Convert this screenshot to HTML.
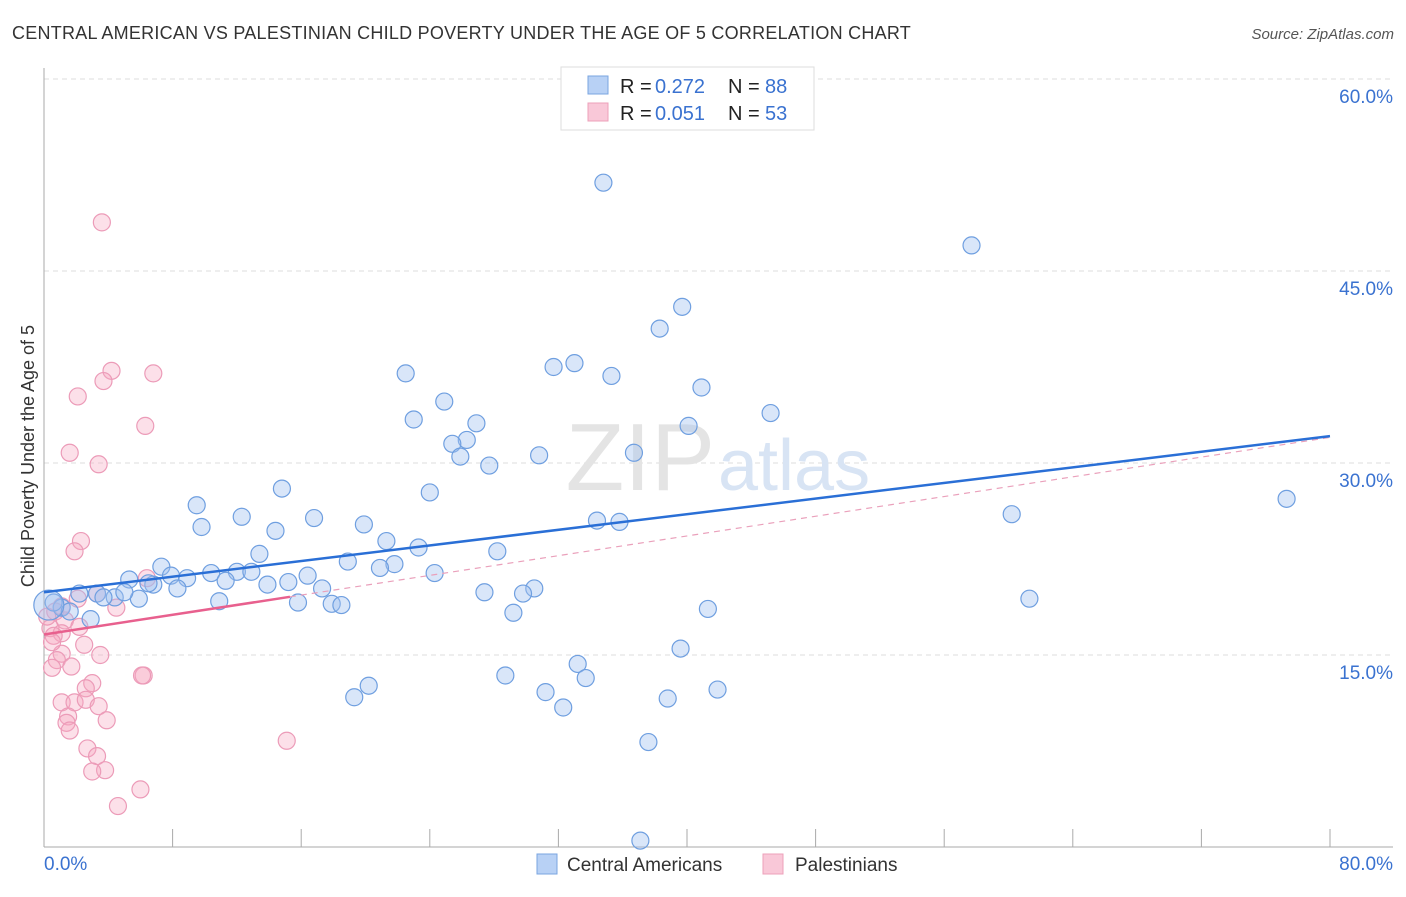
<!DOCTYPE html>
<html><head><meta charset="utf-8"><style>
body{margin:0;background:#fff;font-family:"Liberation Sans",sans-serif}
svg text{font-family:"Liberation Sans",sans-serif}
</style></head><body>
<svg id="chart" width="1406" height="892">
<text x="12" y="39" font-size="18" fill="#333" letter-spacing="0.25">CENTRAL AMERICAN VS PALESTINIAN CHILD POVERTY UNDER THE AGE OF 5 CORRELATION CHART</text>
<text x="1394" y="39" font-size="15" fill="#555" font-style="italic" text-anchor="end">Source: ZipAtlas.com</text>
<text x="34" y="456" font-size="18" fill="#333" text-anchor="middle" transform="rotate(-90 34 456)">Child Poverty Under the Age of 5</text>
<g id="grid"></g>
<text x="715" y="490" font-size="96" fill="#e4e4e4" text-anchor="end" font-family="Liberation Serif">ZIP</text>
<text x="718" y="490" font-size="72" fill="#d8e4f4">atlas</text>
<g id="pts"></g>
<g id="lines"></g>
<g>
<rect x="561" y="67" width="253" height="63" fill="#fff" stroke="#ddd"/>
<rect x="588" y="76" width="20" height="18" fill="#b8d1f5" stroke="#7aa5e0"/>
<rect x="588" y="103" width="20" height="18" fill="#f9c8d8" stroke="#eda0ba"/>
<text x="620" y="93" font-size="20" fill="#222">R =</text><text x="655" y="93" font-size="20" fill="#3a72d0">0.272</text>
<text x="728" y="93" font-size="20" fill="#222">N =</text><text x="765" y="93" font-size="20" fill="#3a72d0">88</text>
<text x="620" y="120" font-size="20" fill="#222">R =</text><text x="655" y="120" font-size="20" fill="#3a72d0">0.051</text>
<text x="728" y="120" font-size="20" fill="#222">N =</text><text x="765" y="120" font-size="20" fill="#3a72d0">53</text>
</g>
<g>
<rect x="537" y="854" width="20" height="20" fill="#b8d1f5" stroke="#7aa5e0"/>
<text x="567" y="871" font-size="19" fill="#333">Central Americans</text>
<rect x="763" y="854" width="20" height="20" fill="#f9c8d8" stroke="#eda0ba"/>
<text x="795" y="871" font-size="19" fill="#333">Palestinians</text>
</g>
</svg>
<script>
const blueX=[34.8,57.7,39.7,38.3,33.0,31.7,35.3,22.5,40.9,24.9,45.2,23.0,26.9,26.3,25.4,40.1,25.9,30.8,36.7,27.7,24.0,14.8,9.5,77.3,60.2,12.3,16.8,9.8,19.9,34.4,35.8,14.4,21.3,23.3,28.2,13.4,7.3,18.9,21.8,20.9,24.3,10.4,12.0,12.9,7.9,8.9,5.3,16.4,11.3,15.2,13.9,6.8,6.5,8.3,17.3,27.4,30.5,29.8,3.3,2.2,4.4,5.9,15.8,10.9,17.9,18.5,61.3,41.3,29.2,1.1,1.6,2.9,0.6,39.6,33.2,28.7,33.7,20.2,31.2,19.3,41.9,38.8,32.3,37.6,37.1,5.0,3.7,0.3];
const blueY=[51.9,47.0,42.2,40.5,37.8,37.5,36.8,37.0,35.9,34.8,33.9,33.4,33.1,31.8,31.5,32.9,30.5,30.6,30.8,29.8,27.7,28.0,26.7,27.2,26.0,25.8,25.7,25.0,25.2,25.5,25.4,24.7,23.9,23.4,23.1,22.9,21.9,22.3,22.1,21.8,21.4,21.4,21.5,21.5,21.2,21.0,20.9,21.2,20.8,20.7,20.5,20.5,20.6,20.2,20.2,19.9,20.2,19.8,19.8,19.8,19.5,19.4,19.1,19.2,19.0,18.9,19.4,18.6,18.3,18.7,18.4,17.8,19.1,15.5,14.3,13.4,13.2,12.6,12.1,11.7,12.3,11.6,10.9,8.2,0.5,19.9,19.5,18.9];
const pinkX=[3.6,4.2,6.8,3.7,2.1,6.3,1.6,3.4,2.3,1.9,6.4,3.3,2.1,4.5,1.1,0.7,1.3,0.4,2.2,1.1,0.6,2.5,3.5,1.1,0.8,1.7,0.5,6.2,3.0,2.6,1.1,1.9,2.6,3.4,3.9,1.5,1.4,1.6,2.7,3.3,3.8,3.0,6.0,4.6,15.1,0.2,0.5,6.1];
const pinkY=[48.8,37.2,37.0,36.4,35.2,32.9,30.8,29.9,23.9,23.1,21.0,19.8,19.4,18.7,18.8,18.4,17.7,17.1,17.2,16.7,16.5,15.8,15.0,15.1,14.6,14.1,14.0,13.4,12.8,12.4,11.3,11.3,11.5,11.0,9.9,10.2,9.7,9.1,7.7,7.1,6.0,5.9,4.5,3.2,8.3,18.0,16.0,13.4];
const blueTrend=[19.9,32.1];
const pinkTrend=[16.6,32.0];
const yTicks=[15,30,45,60];
const X=v=>44+v*16.075, Y=v=>847-v*12.8;
const NS="http://www.w3.org/2000/svg";
function mk(t,a,p){const e=document.createElementNS(NS,t);for(const k in a)e.setAttribute(k,a[k]);p.appendChild(e);return e;}
const grid=document.getElementById('grid');
yTicks.forEach(v=>{
 const l=mk('line',{x1:44,x2:1393,y1:Y(v),y2:Y(v),stroke:'#ddd','stroke-dasharray':'5,4'},grid);
 
 
 const t=mk('text',{x:1393,y:Y(v)+24,'font-size':19,fill:'#3a72d0','text-anchor':'end'},grid);
 t.textContent=v.toFixed(1)+'%';
 
 
});
mk('line',{x1:44,x2:44,y1:68,y2:847,stroke:'#aaa'},grid);
mk('line',{x1:44,x2:1393,y1:847,y2:847,stroke:'#aaa'},grid);
for(let i=1;i<=10;i++){const xx=44+i*128.6;if(xx<=1331)mk('line',{x1:xx,x2:xx,y1:829,y2:847,stroke:'#aaa'},grid);}
const t0=mk('text',{x:44,y:870,'font-size':19,fill:'#3a72d0'},grid);t0.textContent='0.0%';


const t1=mk('text',{x:1393,y:870,'font-size':19,fill:'#3a72d0','text-anchor':'end'},grid);t1.textContent='80.0%';


const pts=document.getElementById('pts');
pinkX.forEach((v,i)=>{const c=mk('circle',{cx:X(v),cy:Y(pinkY[i]),r:8.5,fill:'rgba(245,165,192,0.35)',stroke:'#ec9bb8','stroke-width':1.2},pts);
 
 });
blueX.forEach((v,i)=>{const c=mk('circle',{cx:X(v),cy:Y(blueY[i]),r:(i==blueX.length-1?15:8.5),fill:'rgba(160,192,240,0.4)',stroke:'#6f9fe0','stroke-width':1.2},pts);
 
 });
const lines=document.getElementById('lines');
const pm=pinkTrend[0]+(pinkTrend[1]-pinkTrend[0])*15.3/80;
const pd=mk('line',{x1:X(15.3),y1:Y(pm),x2:X(80),y2:Y(pinkTrend[1]),stroke:'#eaa0bb','stroke-width':1.2,'stroke-dasharray':'6,5'},lines);


const ps=mk('line',{x1:X(0),y1:Y(pinkTrend[0]),x2:X(15.3),y2:Y(pm),stroke:'#e8608e','stroke-width':2.5},lines);


const bl=mk('line',{x1:X(0),y1:Y(blueTrend[0]),x2:X(80),y2:Y(blueTrend[1]),stroke:'#2a6fd6','stroke-width':2.5},lines);


</script>
</body></html>
